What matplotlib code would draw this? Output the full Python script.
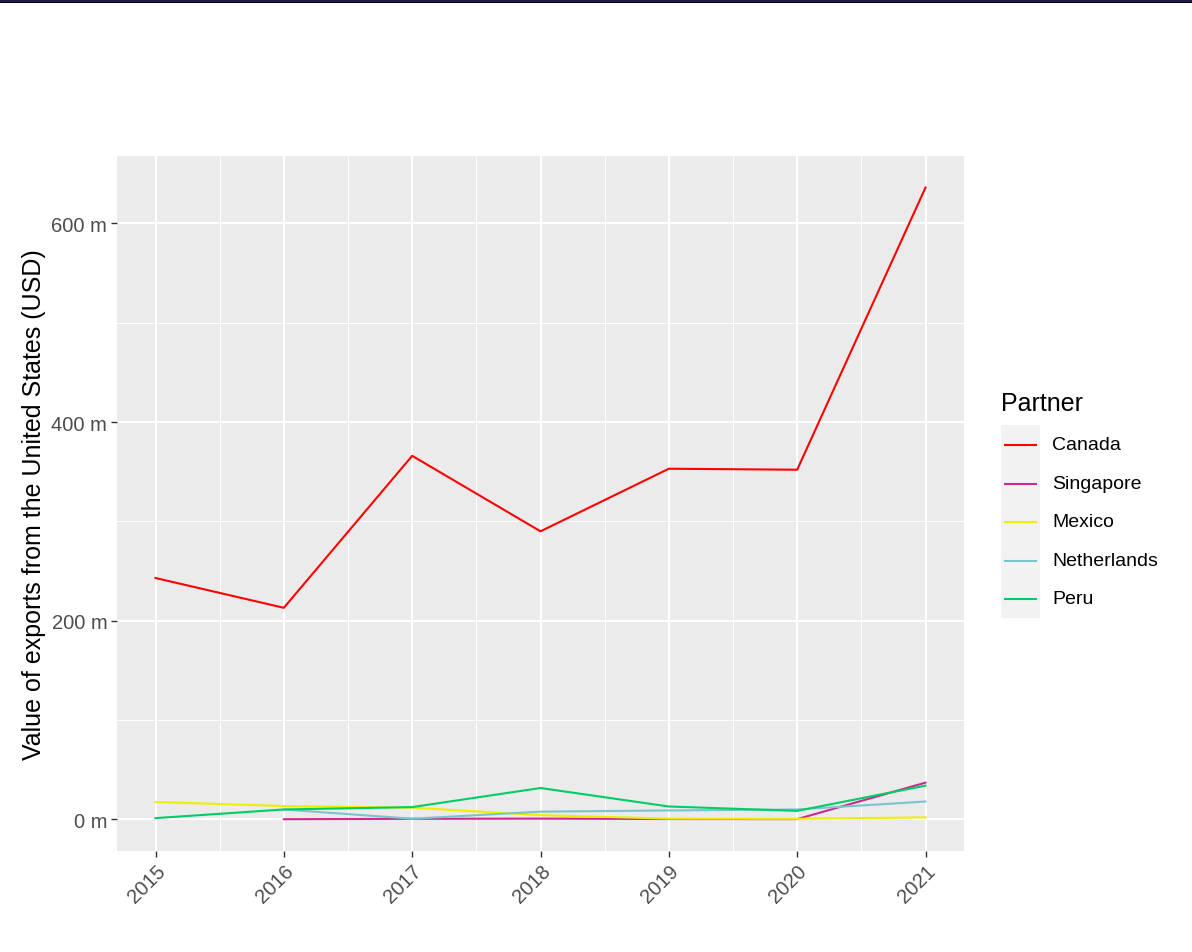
import matplotlib
matplotlib.use("Agg")
import matplotlib.pyplot as plt
from matplotlib.lines import Line2D
from matplotlib.patches import Rectangle
from matplotlib.ticker import MultipleLocator, FuncFormatter

plt.rcParams["font.family"] = ["Liberation Sans", "DejaVu Sans"]

years = [2015, 2016, 2017, 2018, 2019, 2020, 2021]
years_late = [2016, 2017, 2018, 2019, 2020, 2021]

# 값 단위: 백만 달러
canada = [243, 213, 366, 290, 353, 352, 636]
singapore = [0.2, 0.6, 0.8, 0.4, 0.3, 37]
mexico = [17.5, 13.5, 11.8, 4.3, 0.8, 0.6, 2.0]
netherlands = [10, 0.7, 7.8, 9.0, 10.0, 18]
peru = [1.3, 10, 12.4, 31.6, 13, 8.6, 34]

partners = ["Canada", "Singapore", "Mexico", "Netherlands", "Peru"]
colors = ["#FF0000", "#CD2990", "#EEEE00", "#7AC5CD", "#00CD66"]
series = [(years, canada), (years_late, singapore), (years, mexico),
          (years_late, netherlands), (years, peru)]

fig = plt.figure(figsize=(11.92, 9.53), dpi=100)
ax = fig.add_axes([117 / 1192, 101 / 953, 847 / 1192, 695 / 953])
ax.set_facecolor("#EBEBEB")

for (xs, ys), c in zip(series, colors):
    ax.plot(xs, ys, color=c, lw=1.5, zorder=3)

ax.set_xlim(2014.7, 2021.3)
ax.set_ylim(-31.8, 667.8)
ax.xaxis.set_major_locator(MultipleLocator(1))
ax.xaxis.set_minor_locator(MultipleLocator(0.5))
ax.yaxis.set_major_locator(MultipleLocator(200))
ax.yaxis.set_minor_locator(MultipleLocator(100))
ax.yaxis.set_major_formatter(FuncFormatter(lambda v, p: f"{v:.0f} m"))
ax.xaxis.set_major_formatter(FuncFormatter(lambda v, p: f"{v:.0f}"))

ax.grid(which="major", color="white", lw=1.5, zorder=1)
ax.grid(which="minor", color="white", lw=0.7, zorder=1)
ax.set_axisbelow(True)
for s in ax.spines.values():
    s.set_visible(False)
ax.tick_params(which="minor", length=0)
ax.tick_params(which="major", length=4, color="#333333", width=1,
               labelcolor="#4D4D4D", labelsize=14.5, pad=3)
for lab in ax.get_xticklabels():
    lab.set_rotation(45)
    lab.set_ha("right")
    lab.set_rotation_mode("anchor")

ax.set_ylabel("Value of exports from the United States (USD)", fontsize=18,
              labelpad=4)

# 범례 (ggplot 스타일)
fig.text(1001 / 1192, 1 - 404 / 953, "Partner", fontsize=18, va="center",
         ha="left")
fig.add_artist(Rectangle((1001 / 1192, 1 - 619 / 953), 39 / 1192, 193 / 953,
                         transform=fig.transFigure, facecolor="#F2F2F2",
                         edgecolor="none"))
for i, (name, c) in enumerate(zip(partners, colors)):
    yy = 1 - (446 + 38.5 * i) / 953
    fig.add_artist(Line2D([1005 / 1192, 1036 / 1192], [yy, yy], color=c,
                          lw=1.5, transform=fig.transFigure))
    fig.text(1052 / 1192, yy, name, fontsize=14, va="center", ha="left")

# 상단 테두리
fig.add_artist(Rectangle((0, 1 - 3 / 953), 1, 3 / 953, transform=fig.transFigure,
                         facecolor="#1F1A4F", edgecolor="none"))
fig.add_artist(Rectangle((0, 1 - 4 / 953), 1, 1.2 / 953, transform=fig.transFigure,
                         facecolor="black", edgecolor="none"))

fig.savefig("out.png", dpi=100)
